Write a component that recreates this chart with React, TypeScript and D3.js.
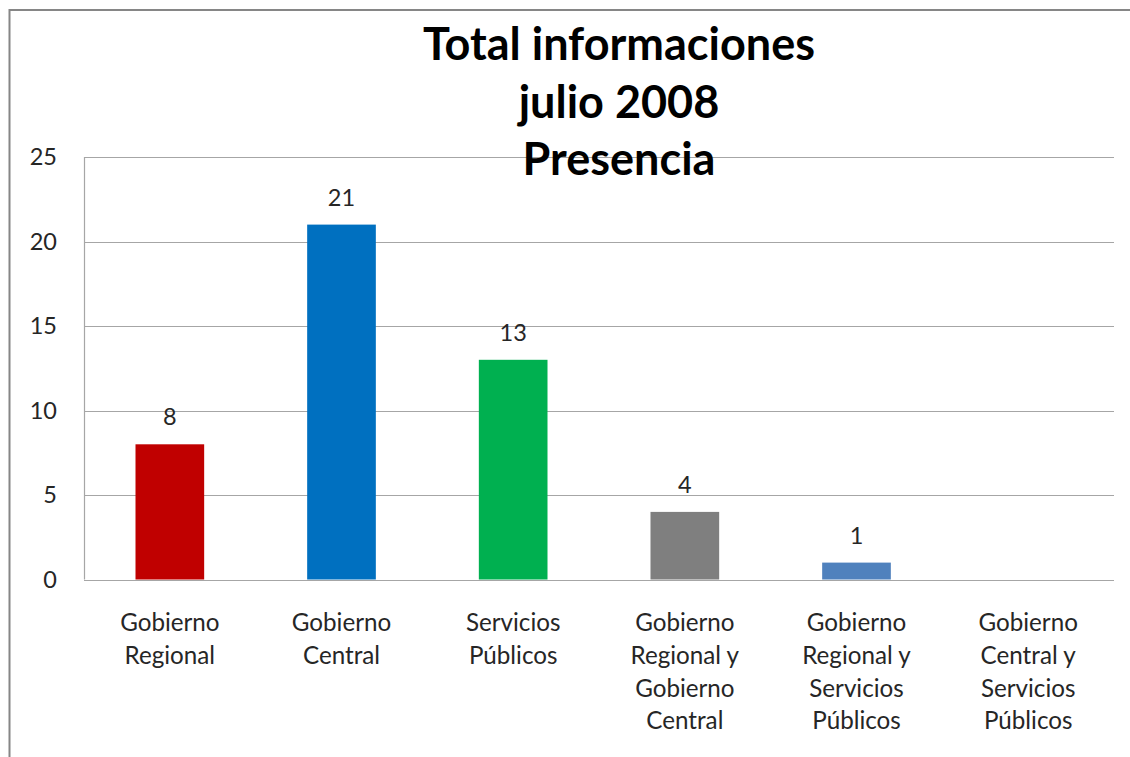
import React from "react";
import * as d3 from "d3";

const categories: string[][] = [
  ["Gobierno", "Regional"],
  ["Gobierno", "Central"],
  ["Servicios", "Públicos"],
  ["Gobierno", "Regional y", "Gobierno", "Central"],
  ["Gobierno", "Regional y", "Servicios", "Públicos"],
  ["Gobierno", "Central y", "Servicios", "Públicos"],
];
const values: number[] = [8, 21, 13, 4, 1, 0];
const barColors: string[] = ["#C00000", "#0070C0", "#00B050", "#7F7F7F", "#4F81BD", "#4F81BD"];
const yTicks: number[] = [0, 5, 10, 15, 20, 25];
const titleLines: string[] = ["Total informaciones", "julio 2008", "Presencia"];

const W = 1130;
const H = 757;
const plot = { left: 84, right: 1114, top: 157, bottom: 579.5 };
const FONT = "Lato, 'Open Sans', sans-serif";

export default function App() {
  const keys = categories.map((_, i) => String(i));
  const x = d3
    .scaleBand<string>()
    .domain(keys)
    .range([plot.left, plot.right])
    .paddingInner(0.6)
    .paddingOuter(0.3);
  const y = d3.scaleLinear().domain([0, 25]).range([plot.bottom, plot.top]);

  return (
    <svg
      width={W}
      height={H}
      style={{ position: "absolute", left: 0, top: 0, background: "#fff" }}
      fontFamily={FONT}
    >
      <rect x={0} y={0} width={W} height={H} fill="#fff" />
      {/* outer chart border (extends beyond the visible region) */}
      <rect x={9.5} y={10} width={W + 20} height={H + 20} fill="none" stroke="#868686" strokeWidth={2} />

      {/* gridlines */}
      {yTicks.map((t) => (
        <line
          key={"g" + t}
          x1={plot.left}
          x2={plot.right}
          y1={Math.round(y(t)) + 0.5}
          y2={Math.round(y(t)) + 0.5}
          stroke="#A6A6A6"
          strokeWidth={1.2}
        />
      ))}
      {/* vertical axis line */}
      <line x1={plot.left + 0.5} x2={plot.left + 0.5} y1={plot.top} y2={plot.bottom} stroke="#A6A6A6" strokeWidth={1.2} />

      {/* y tick labels */}
      {yTicks.map((t) => (
        <text key={"t" + t} x={57} y={y(t) + 8} textAnchor="end" fontSize={23.5} fill="#262626">
          {t}
        </text>
      ))}

      {/* bars */}
      {values.map((v, i) =>
        v > 0 ? (
          <rect
            key={"b" + i}
            x={x(String(i))!}
            y={y(v)}
            width={x.bandwidth()}
            height={y(0) - y(v)}
            fill={barColors[i]}
          />
        ) : null
      )}

      {/* value labels */}
      {values.map((v, i) =>
        v > 0 ? (
          <text
            key={"v" + i}
            x={x(String(i))! + x.bandwidth() / 2}
            y={y(v) - 19}
            textAnchor="middle"
            fontSize={23.5}
            fill="#262626"
          >
            {v}
          </text>
        ) : null
      )}

      {/* category labels */}
      {categories.map((lines, i) => (
        <text
          key={"c" + i}
          x={x(String(i))! + x.bandwidth() / 2}
          y={631}
          textAnchor="middle"
          fontSize={24.2}
          fill="#262626"
        >
          {lines.map((l, j) => (
            <tspan key={j} x={x(String(i))! + x.bandwidth() / 2} dy={j === 0 ? 0 : 32.8}>
              {l}
            </tspan>
          ))}
        </text>
      ))}

      {/* title */}
      <text x={619} y={60} textAnchor="middle" fontSize={45} fontWeight="bold" fill="#000">
        {titleLines.map((l, j) => (
          <tspan key={j} x={619} dy={j === 0 ? 0 : 57.5}>
            {l}
          </tspan>
        ))}
      </text>
    </svg>
  );
}
